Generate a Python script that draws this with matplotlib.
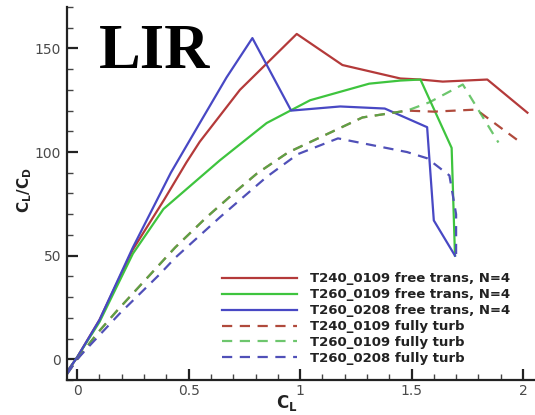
import matplotlib
matplotlib.use("Agg")
import matplotlib.pyplot as plt
from matplotlib.ticker import MultipleLocator, FuncFormatter

plt.rcParams['font.family'] = ['DejaVu Sans']
plt.rcParams['mathtext.fontset'] = 'dejavusans'

# ---- data ----
labels = ["T240_0109 free trans, N=4", "T260_0109 free trans, N=4",
          "T260_0208 free trans, N=4", "T240_0109 fully turb",
          "T260_0109 fully turb", "T260_0208 fully turb"]

t240_free_x = [-0.045, 0.0, 0.1, 0.25, 0.39, 0.49, 0.55, 0.73, 0.985, 1.19, 1.45, 1.54, 1.64, 1.84, 2.02]
t240_free_y = [-6, 1, 19, 53, 77, 95, 105, 130, 157, 142, 135.5, 135, 134, 135, 119]

t260a_free_x = [-0.045, 0.0, 0.1, 0.25, 0.387, 0.5, 0.64, 0.85, 1.045, 1.31, 1.45, 1.54, 1.68, 1.695]
t260a_free_y = [-6, 1, 18, 51, 72.5, 83, 96, 114, 125, 133, 134.5, 135, 102, 50]

t260b_free_x = [-0.045, 0.0, 0.1, 0.25, 0.42, 0.55, 0.67, 0.786, 0.96, 1.18, 1.38, 1.57, 1.60, 1.695]
t260b_free_y = [-6, 1, 19, 54, 90, 114, 136, 155, 120, 122, 121, 112, 67, 50]

t240_turb_x = [-0.045, 0.0, 0.09, 0.18, 0.386, 0.44, 0.58, 0.717, 0.807, 0.946, 1.28, 1.48, 1.60, 1.79, 1.99]
t240_turb_y = [-7, 0, 12.5, 23.6, 47.7, 54, 68.5, 81.5, 89.7, 99.8, 116.7, 120, 119.5, 120.5, 104.6]

t260a_turb_x = [-0.045, 0.0, 0.09, 0.18, 0.386, 0.44, 0.58, 0.717, 0.807, 0.946, 1.28, 1.48, 1.58, 1.73, 1.89]
t260a_turb_y = [-7, 0, 12.5, 23.6, 47.7, 54, 68.5, 81.5, 89.7, 99.8, 116.7, 120, 124, 132.6, 104.6]

t260b_turb_x = [-0.045, 0.0, 0.036, 0.19, 0.37, 0.44, 0.64, 0.85, 0.99, 1.17, 1.48, 1.57, 1.67, 1.70, 1.70]
t260b_turb_y = [-7, 0, 4.3, 22, 41, 49, 68.5, 88, 99, 106.6, 100, 97, 88.7, 70, 49]

xticks = [0, 0.5, 1, 1.5, 2]
yticks = [0, 50, 100, 150]

# ---- figure ----
W, H = 535, 415
fig = plt.figure(figsize=(W / 100, H / 100), dpi=100)
ax = fig.add_axes([66.5 / W, 35 / H, (W - 66.5) / W, (380 - 7) / H])

red = '#b43a3a'
green = '#3ec43e'
blue = '#4848c4'
lw = 1.6
dash = (0, (4.6, 3.4))

ax.plot(t240_free_x, t240_free_y, color=red, lw=lw, label=labels[0])
ax.plot(t260a_free_x, t260a_free_y, color=green, lw=lw, label=labels[1])
ax.plot(t260b_free_x, t260b_free_y, color=blue, lw=lw, label=labels[2])
ax.plot(t240_turb_x, t240_turb_y, color='#b04a3c', lw=lw, ls=dash, label=labels[3])
ax.plot(t260a_turb_x, t260a_turb_y, color='#48b848', lw=lw, ls=dash, alpha=0.8, label=labels[4])
ax.plot(t260b_turb_x, t260b_turb_y, color='#5050b8', lw=lw, ls=dash, label=labels[5])

ax.set_xlim(-0.048, 2.054)
ax.set_ylim(-10, 170)
ax.spines['top'].set_visible(False)
ax.spines['right'].set_visible(False)
for s in ('left', 'bottom'):
    ax.spines[s].set_linewidth(1.6)
    ax.spines[s].set_color('#222222')

ax.set_xticks(xticks)
ax.set_yticks(yticks)
ax.xaxis.set_major_formatter(FuncFormatter(lambda v, p: f"{v:g}"))
ax.xaxis.set_minor_locator(MultipleLocator(0.1))
ax.yaxis.set_minor_locator(MultipleLocator(10))
ax.tick_params(which='major', direction='in', length=8, width=1.6, color='#222222',
               labelsize=10, labelcolor='#4a4a4a')
ax.tick_params(which='minor', direction='in', length=4, width=1.0, color='#444444')
ax.tick_params(axis='x', which='major', pad=3)
ax.tick_params(axis='y', which='major', pad=4)

ax.set_xlabel(r'$\mathbf{C_L}$', fontsize=12, color='#222222')
ax.xaxis.set_label_coords(0.47, -0.035, transform=ax.transAxes)
ax.xaxis.label.set_va('top')
ax.set_ylabel(r'$\mathbf{C_L/C_D}$', fontsize=11, color='#222222')
ax.yaxis.set_label_coords(-0.07, 0.51)

leg = ax.legend(loc='lower left', bbox_to_anchor=(222 / W, (415 - 365) / H),
                bbox_transform=fig.transFigure, frameon=False,
                prop={'weight': 'bold', 'size': 9.5}, handlelength=5.7,
                handletextpad=1.0, labelspacing=0.22, borderpad=0, borderaxespad=0)
for t in leg.get_texts():
    t.set_color('#222222')

fig.text(99 / W, (415 - 68) / H, 'LIR', family='Liberation Serif', weight='bold',
         fontsize=45, va='baseline', ha='left', color='black')

fig.savefig('out.png', dpi=100)
